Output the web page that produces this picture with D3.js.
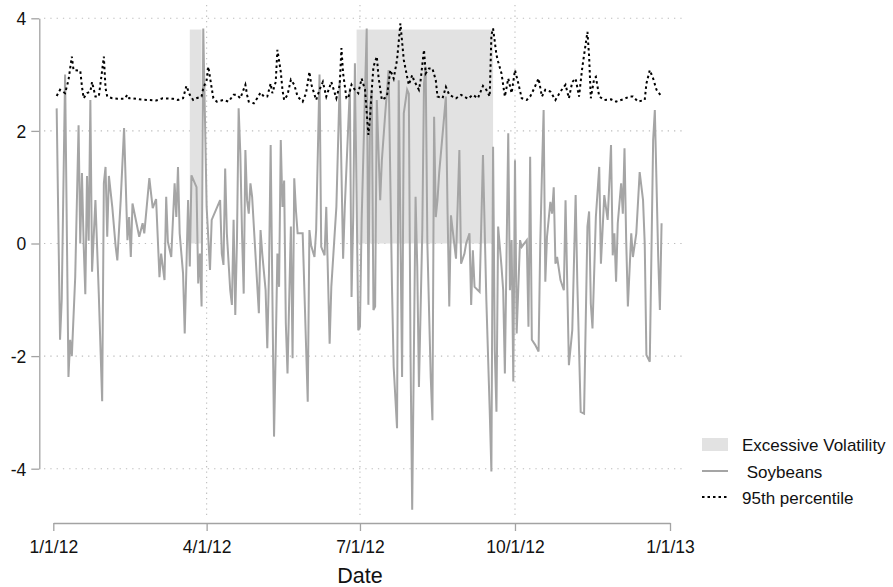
<!DOCTYPE html>
<html>
<head>
<meta charset="utf-8">
<script src="https://cdn.jsdelivr.net/npm/d3@7/dist/d3.min.js"></script>
<style>
  html, body { margin: 0; padding: 0; background: #fff; }
  svg { display: block; }
  text { font-family: "Liberation Sans", Arial, Helvetica, sans-serif; fill: #111; }
</style>
</head>
<body>
<svg id="chart" width="893" height="587"></svg>
<script>
// Soybeans: standardized daily return series (day = days since 1 Jan 2012)
const soyDay = [2,4,5,7,9,10,11,13,15,16,17,18,19,20,21,22,23,25,27,29,30,31,32,33,35,37,38,40,42,44,45,46,47,51,53,54,57,59,61,63,64,66,67,68,70,72,
  73,74,75,77,78,80,81,82,85,86,87,88,89,90,91,93,94,99,100,101,102,103,105,106,107,108,109,110,111,112,113,114,115,116,117,118,122,123,124,126,127,128,129,131,132,133,134,135,136,137,138,139,140,141,142,143,
  144,145,148,151,152,153,155,156,158,159,161,162,164,165,167,168,170,172,173,176,177,178,179,181,182,183,186,187,188,189,190,191,192,194,195,197,199,201,202,204,205,207,208,210,211,212,213,
  215,216,217,219,220,221,222,224,225,226,227,228,229,233,234,235,236,237,239,241,242,244,245,247,248,249,250,253,255,257,259,260,261,262,263,264,266,267,268,270,271,272,273,274,275,277,278,281,282,283,284,286,
  288,289,290,291,292,293,295,296,297,298,299,301,303,304,306,308,310,311,313,315,317,318,319,320,322,324,325,327,329,331,332,333,334,335,337,338,339,340,341,343,344,346,348,350,351,352,354,356,357,359,360,361];
const soyValue = [2.40,-1.71,-1.0,3.0,-2.37,-1.71,-2.0,-0.6,2.1,0,1.25,0,-0.9,1.2,0.05,2.55,-0.5,0.77,-0.9,-2.8,1.07,1.36,0.12,1.2,0.65,-0.05,-0.3,0.77,2.05,0.06,0.47,-0.24,0.71,0.12,0.36,0.18,1.16,0.63,0.79,-0.6,-0.18,-0.65,0.83,0.03,-0.24,1.07,
  0.47,1.36,0.18,-0.53,-1.6,0.77,-0.41,1.21,1.0,-0.71,-0.18,-1.12,3.82,2.25,0.65,-0.47,0.42,0.77,-0.18,-0.38,1.33,0.18,-0.83,-1.09,0.42,-1.27,0.06,2.4,1.6,0.18,-0.89,1.66,0.77,0.53,1.07,0.83,-1.24,0.24,-0.18,-0.83,-1.86,-0.53,1.75,-3.43,-1.89,-0.18,-0.77,1.84,0.65,1.12,-1.42,-2.31,-1.0,0.3,-2.04,1.16,
  0.59,0.18,0.18,-2.81,0.24,-0.03,-0.24,0.24,3.0,-0.06,-0.21,0.65,-1.78,-0.77,0.18,0.65,2.9,-0.27,0.65,2.76,-0.95,0.47,3.2,-1.54,-1.48,0.42,3.82,-1.09,2.43,2.73,-1.18,-1.12,2.55,0.77,1.48,2.31,3.08,-0.77,-2.19,-3.28,2.9,-2.37,2.31,2.73,2.66,-1.95,-4.73,
  0.83,-0.41,-2.55,0.24,2.84,3.14,0,-2.37,-3.14,2.25,0.47,0.77,1.25,2.61,0.53,-1.12,0.5,0.24,-0.27,1.66,-0.36,-0.18,0,0.18,-1.09,-0.12,-0.77,-0.86,1.57,-1.0,-2.96,-4.05,1.72,-1.89,-2.99,0.3,-0.41,-0.83,-2.31,1.96,-0.83,0.06,-2.45,1.48,-1.6,0.06,-0.06,0.06,-1.48,1.54,-1.71,-1.8,
  -1.92,0,1.25,2.37,-0.68,0.12,0.74,0.53,1.0,-0.36,-0.24,-0.65,-0.83,0.77,-2.16,-1.54,0.86,-0.71,-2.99,-3.02,0.3,0.57,-1.07,-1.51,0.47,1.36,-0.36,0.86,0.42,1.75,-0.21,0.18,-0.68,0.36,1.07,0.53,1.69,0.06,-1.12,0.18,-0.24,0.18,1.27,0.77,0,-1.98,-2.1,1.84,2.37,-0.24,-1.18,0.36];

// 95th percentile threshold
const pctDay = [2,4,7,9,11,12,16,17,18,20,22,23,25,27,28,30,31,32,35,38,42,44,45,47,51,56,61,65,71,74,77,79,81,83,85,88,89,91,92,94,95,97,101,104,107,109,111,114,115,116,119,121,123,125,127,129,130,132,133,135,136,137,139,
  141,143,145,148,150,152,153,156,158,160,162,165,168,170,171,172,174,175,177,179,181,183,185,187,188,189,190,192,193,195,198,200,202,204,206,208,210,211,213,
  214,217,218,220,221,223,225,227,228,231,233,235,239,242,246,249,252,255,257,259,260,261,263,264,266,268,270,272,274,276,278,281,283,285,
  288,290,292,295,298,301,304,306,308,310,312,314,317,318,319,321,322,324,327,331,334,338,342,344,347,351,352,354,356,358,361];
const pctValue = [2.62,2.73,2.67,2.9,3.32,3.08,3.07,2.79,2.58,2.67,2.70,2.87,2.61,2.61,2.84,3.32,2.76,2.61,2.58,2.57,2.57,2.64,2.58,2.58,2.56,2.55,2.54,2.58,2.57,2.55,2.58,2.80,2.64,2.55,2.58,2.61,2.76,2.90,3.14,2.76,2.58,2.52,2.55,2.52,2.64,2.64,2.58,2.82,2.64,2.52,2.49,2.58,2.68,2.61,2.61,2.84,2.67,2.87,3.44,3.05,2.73,2.55,2.64,
  2.91,2.82,2.61,2.52,2.67,3.05,2.84,2.55,2.73,2.87,2.61,2.87,2.58,2.82,3.47,3.02,2.58,2.58,2.82,2.73,2.67,2.93,2.73,1.93,2.25,2.73,3.14,3.32,2.96,2.55,2.61,3.08,2.93,3.26,3.91,3.26,2.96,2.82,2.99,
  2.90,2.73,2.90,3.44,3.02,3.11,3.11,2.90,2.61,2.58,2.78,2.64,2.58,2.64,2.57,2.64,2.58,2.80,2.73,2.61,3.70,3.82,3.35,3.23,3.02,2.61,2.93,2.67,3.08,2.84,2.58,2.55,2.61,2.73,
  2.93,2.61,2.73,2.70,2.55,2.70,2.82,2.58,2.87,2.93,2.61,3.14,3.76,3.32,2.58,2.93,2.96,2.61,2.55,2.56,2.52,2.56,2.61,2.61,2.52,2.55,2.84,3.08,2.93,2.73,2.61];

// Periods flagged as excessive volatility
const volStart = ["2012-03-22", "2012-06-29"];
const volEnd   = ["2012-03-29", "2012-09-18"];
const volTop = 3.8;

const xTickDates = ["2012-01-01", "2012-04-01", "2012-07-01", "2012-10-01", "2013-01-01"];
const yTickValues = [-4, -2, 0, 2, 4];

const legendLabels = ["Excessive Volatility", " Soybeans", "95th percentile"];

const parse = d3.timeParse("%Y-%m-%d");
const origin = parse("2012-01-01");
const toDate = d => d3.timeDay.offset(origin, d);

const soy = soyDay.map((d, i) => ({ date: toDate(d), value: soyValue[i] }));
const pct = pctDay.map((d, i) => ({ date: toDate(d), value: pctValue[i] }));
const bands = volStart.map((s, i) => ({ start: parse(s), end: parse(volEnd[i]) }));
const xTicks = xTickDates.map(parse);

const svg = d3.select("#chart");
svg.append("rect").attr("width", 893).attr("height", 587).attr("fill", "#fff");

const x = d3.scaleTime().domain([parse("2012-01-01"), parse("2013-01-01")]).range([53.3, 670]);
const y = d3.scaleLinear().domain([-4, 4]).range([468.7, 18.3]);

const gridColor = "#bdbdbd";
const axisColor = "#a3a3a3";

// grid
const grid = svg.append("g");
grid.selectAll("line.h").data(yTickValues).join("line")
  .attr("x1", 44).attr("x2", 684)
  .attr("y1", d => y(d)).attr("y2", d => y(d))
  .attr("stroke", gridColor).attr("stroke-width", 1.1)
  .attr("stroke-dasharray", "1.3 5");
grid.selectAll("line.v").data(xTicks.slice(1, -1)).join("line")
  .attr("x1", d => x(d)).attr("x2", d => x(d))
  .attr("y1", 5).attr("y2", 518)
  .attr("stroke", gridColor).attr("stroke-width", 1.1)
  .attr("stroke-dasharray", "1.3 4");

// shaded periods
svg.append("g").selectAll("rect").data(bands).join("rect")
  .attr("x", d => x(d.start))
  .attr("width", d => x(d.end) - x(d.start))
  .attr("y", y(volTop))
  .attr("height", y(0) - y(volTop))
  .attr("fill", "#e2e2e2");

// soybeans line
svg.append("path").datum(soy)
  .attr("fill", "none")
  .attr("stroke", "#a5a5a5")
  .attr("stroke-width", 2)
  .attr("stroke-linejoin", "miter")
  .attr("d", d3.line().x(d => x(d.date)).y(d => y(d.value)));

// 95th percentile line
svg.append("path").datum(pct)
  .attr("fill", "none")
  .attr("stroke", "#000")
  .attr("stroke-width", 2)
  .attr("stroke-dasharray", "2.5 3")
  .attr("d", d3.line().x(d => x(d.date)).y(d => y(d.value)));

// axes
const fmt = d3.timeFormat("%-m/%-d/%y");
const xAxis = svg.append("g").attr("transform", "translate(0,523)")
  .call(d3.axisBottom(x).tickValues(xTicks).tickFormat(fmt).tickSize(8).tickSizeOuter(0).tickPadding(10));
const yAxis = svg.append("g").attr("transform", "translate(39.3,0)")
  .call(d3.axisLeft(y).tickValues(yTickValues).tickFormat(d => String(d)).tickSize(8).tickSizeOuter(0).tickPadding(5));
[xAxis, yAxis].forEach(g => {
  g.select(".domain").attr("stroke", axisColor).attr("stroke-width", 1.3);
  g.selectAll(".tick line").attr("stroke", axisColor).attr("stroke-width", 1.3);
  g.selectAll(".tick text").attr("font-size", 17.5).attr("fill", "#111")
    .attr("font-family", "'Liberation Sans', Arial, sans-serif");
});
yAxis.selectAll(".tick text").attr("dy", "0.36em");

svg.append("text").attr("x", x(parse("2012-07-01"))).attr("y", 583)
  .attr("text-anchor", "middle").attr("font-size", 21.5).text("Date");

// legend
const lg = svg.append("g");
lg.append("rect").attr("x", 702).attr("y", 438).attr("width", 26).attr("height", 13).attr("fill", "#e2e2e2");
lg.append("line").attr("x1", 702).attr("x2", 728).attr("y1", 471).attr("y2", 471)
  .attr("stroke", "#a5a5a5").attr("stroke-width", 2);
lg.append("line").attr("x1", 702).attr("x2", 728).attr("y1", 497).attr("y2", 497)
  .attr("stroke", "#000").attr("stroke-width", 2).attr("stroke-dasharray", "2.5 3");
lg.selectAll("text").data(legendLabels).join("text")
  .attr("x", 742).attr("y", (d, i) => 451 + i * 26.5)
  .attr("font-size", 17)
  .style("white-space", "pre")
  .text(d => d);
</script>
</body>
</html>
